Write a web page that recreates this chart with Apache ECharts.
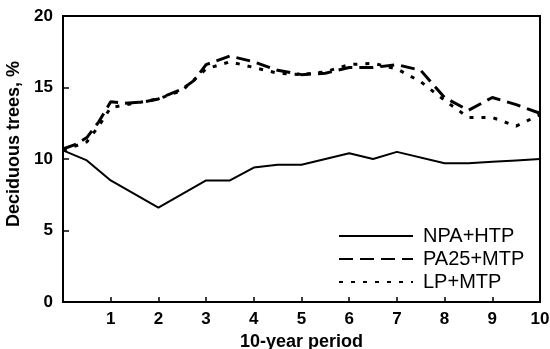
<!DOCTYPE html>
<html>
<head>
<meta charset="utf-8">
<script src="https://cdn.jsdelivr.net/npm/echarts@6/dist/echarts.min.js"></script>
<style>
  html, body { margin: 0; padding: 0; background: #fff; }
  #myChart { width: 550px; height: 349px; }
</style>
</head>
<body>
<div id="myChart"></div>
<script type="text/javascript">

  // series data, [period, percent]
  var npaHtp = [[0, 10.6], [0.5, 9.9], [1, 8.5], [2, 6.6], [3, 8.5], [3.5, 8.5], [4, 9.4], [4.5, 9.6], [5, 9.6],
    [6, 10.4], [6.5, 10.0], [7, 10.5], [8, 9.7], [8.5, 9.7], [9, 9.8], [9.5, 9.9], [10, 10.0]];
  var pa25Mtp = [[0, 10.7], [0.25, 11.0], [0.5, 11.5], [0.75, 12.6], [1, 14.0], [1.3, 13.9], [1.7, 14.0], [2, 14.2],
    [2.5, 14.9], [2.75, 15.5], [3, 16.6], [3.5, 17.2], [4, 16.8], [4.5, 16.2], [5, 15.9], [5.5, 16.0], [6, 16.4],
    [6.5, 16.4], [7, 16.6], [7.5, 16.2], [8, 14.3], [8.5, 13.4], [9, 14.3], [9.5, 13.8], [10, 13.2]];
  var lpMtp = [[0, 10.6], [0.5, 11.2], [0.75, 12.3], [1, 13.6], [1.5, 13.9], [2, 14.2], [2.5, 14.8], [3, 16.3],
    [3.5, 16.8], [4, 16.4], [4.5, 16.0], [5, 15.9], [5.5, 16.1], [6, 16.6], [6.5, 16.7], [7, 16.3], [7.5, 15.4],
    [8, 14.1], [8.5, 12.9], [9, 12.9], [9.5, 12.3], [9.75, 12.7], [10, 13.1]];
  var seriesNames = ["NPA+HTP", "PA25+MTP", "LP+MTP"];

  var chartDom = document.getElementById("myChart");
  var myChart = echarts.init(chartDom);
  var font = "'Liberation Sans', Arial, sans-serif";

  var option = {
    backgroundColor: "#fff",
    animation: false,
    grid: {
      left: 63, right: 10, top: 16, bottom: 47,
      containLabel: false, outerBoundsMode: "none",
      show: true, borderColor: "#000", borderWidth: 2
    },
    legend: {
      left: 333, top: 221,
      orient: "vertical",
      itemWidth: 74, itemHeight: 10, itemGap: 3,
      itemStyle: { opacity: 0 },
      textStyle: { fontFamily: font, fontSize: 20, color: "#000", padding: [0, 0, 0, 5] },
      data: seriesNames
    },
    xAxis: {
      type: "value",
      min: 0, max: 10, interval: 1,
      name: "10-year period",
      nameLocation: "middle",
      nameGap: 29,
      nameTextStyle: { fontFamily: font, fontSize: 18, fontWeight: "bold", color: "#000" },
      axisLine: { lineStyle: { color: "#000", width: 2 } },
      axisTick: { inside: true, length: 5, lineStyle: { color: "#000", width: 1.5 } },
      splitLine: { show: false },
      axisLabel: {
        fontFamily: font, fontSize: 17, fontWeight: "bold", color: "#000", margin: 9,
        formatter: function (v) { return v === 0 ? "" : v; }
      }
    },
    yAxis: {
      type: "value",
      min: 0, max: 20, interval: 5,
      name: "Deciduous trees, %",
      nameLocation: "middle",
      nameGap: 37,
      nameTextStyle: { fontFamily: font, fontSize: 18, fontWeight: "bold", color: "#000", padding: [0, 0, 0, 30] },
      axisLine: { show: true, lineStyle: { color: "#000", width: 2 } },
      axisTick: { show: true, inside: true, length: 6, lineStyle: { color: "#000", width: 1.5 } },
      splitLine: { show: false },
      axisLabel: { fontFamily: font, fontSize: 17, fontWeight: "bold", color: "#000", margin: 10 }
    },
    series: [
      {
        name: seriesNames[0], type: "line", data: npaHtp, symbol: "none",
        lineStyle: { color: "#000", width: 2 }, itemStyle: { color: "#000" }
      },
      {
        name: seriesNames[1], type: "line", data: pa25Mtp, symbol: "none",
        lineStyle: { color: "#000", width: 3, type: [14, 7] }, itemStyle: { color: "#000" }
      },
      {
        name: seriesNames[2], type: "line", data: lpMtp, symbol: "none",
        lineStyle: { color: "#000", width: 3, type: [4, 8] }, itemStyle: { color: "#000" }
      }
    ]
  };

  option && myChart.setOption(option);
</script>
</body>
</html>
